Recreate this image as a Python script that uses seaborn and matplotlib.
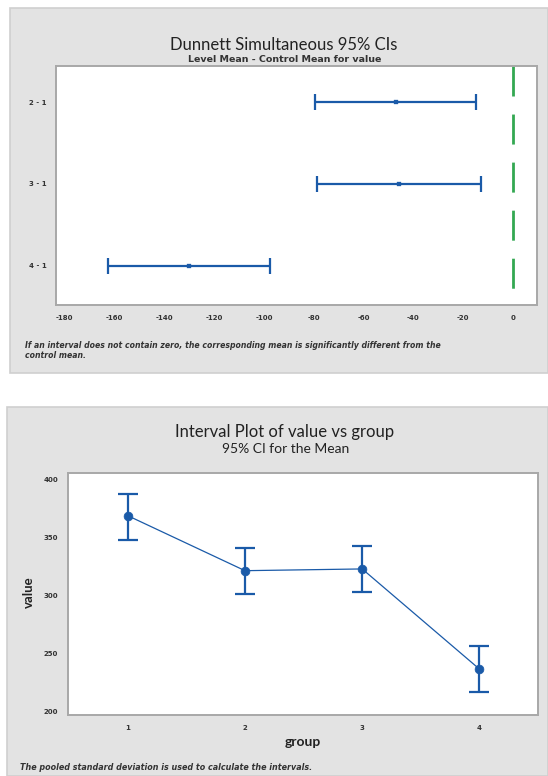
import numpy as np
import pandas as pd
import seaborn as sns
import matplotlib
matplotlib.use("Agg")
import matplotlib.pyplot as plt
from matplotlib.patches import Rectangle

# ---------------- data ----------------
comparisons = ["2 - 1", "3 - 1", "4 - 1"]
diff_mean = [-47.0, -45.8, -130.0]
diff_low = [-79.5, -78.7, -162.7]
diff_high = [-14.9, -12.9, -97.6]
dunnett_xticks = [-180, -160, -140, -120, -100, -80, -60, -40, -20, 0]

groups = [1, 2, 3, 4]
group_mean = [369.2, 321.8, 323.3, 237.0]
group_low = [348.3, 301.7, 303.4, 217.2]
group_high = [387.9, 341.4, 343.1, 256.9]
value_yticks = [200, 250, 300, 350, 400]

BLUE = "#1a5aa8"
GREEN = "#33a852"
PANEL = "#e3e3e3"
FRAME = "#a8a8a8"

sns.set_theme(style="white")
plt.rcParams["font.family"] = ["Lato", "DejaVu Sans"]

W, H = 548, 776
fig = plt.figure(figsize=(W / 100, H / 100), dpi=100)
fig.patch.set_facecolor("white")

def fx(px):
    return px / W

def fy(py):
    return 1 - py / H

# panels
fig.patches.append(Rectangle((fx(10), fy(373)), fx(548) - fx(10), (373 - 8) / H,
                             transform=fig.transFigure, facecolor=PANEL,
                             edgecolor="#cfcfcf", linewidth=1.2, zorder=-10))
fig.patches.append(Rectangle((fx(7), fy(776)), fx(548) - fx(7), (776 - 407) / H,
                             transform=fig.transFigure, facecolor=PANEL,
                             edgecolor="#cfcfcf", linewidth=1.2, zorder=-10))

SMALL = ["DejaVu Sans"]

def style_axes(ax):
    ax.set_facecolor("white")
    for s in ax.spines.values():
        s.set_color(FRAME)
        s.set_linewidth(1.4)
    ax.tick_params(axis="both", which="major", length=3, width=0.8, color=FRAME,
                   direction="out", labelsize=5, pad=4)
    for lab in ax.get_xticklabels() + ax.get_yticklabels():
        lab.set_fontweight("bold")
        lab.set_family(SMALL)
        lab.set_color("#333333")

# ---------------- Dunnett plot ----------------
ax1 = fig.add_axes([fx(56), fy(305), fx(537) - fx(56), (305 - 66) / H])
dfd = pd.DataFrame({"comp": comparisons, "mean": diff_mean,
                    "low": diff_low, "high": diff_high})
dfd["pos"] = np.arange(len(dfd))
ax1.errorbar(dfd["mean"], dfd["pos"],
             xerr=[dfd["mean"] - dfd["low"], dfd["high"] - dfd["mean"]],
             fmt="none", ecolor=BLUE, elinewidth=1.6, capsize=6, capthick=1.6, zorder=2)
sns.scatterplot(data=dfd, x="mean", y="pos", ax=ax1, color=BLUE, marker="s",
                s=8, edgecolor=BLUE, zorder=3)
ax1.set_xlim(-183.5, 9.6)
ax1.set_ylim(2.48, -0.44)
ylo, yhi = ax1.get_ylim()
# zero reference line, drawn from the top of the frame downwards
ax1.plot([0, 0], [yhi, ylo], color=GREEN, linewidth=2, dashes=(10.8, 6.5), zorder=1)
ax1.set_xticks(dunnett_xticks)
ax1.set_xticklabels([str(t) for t in dunnett_xticks])
ax1.set_yticks(dfd["pos"])
ax1.set_yticklabels(comparisons)
ax1.set_xlabel("")
ax1.set_ylabel("")
style_axes(ax1)

fig.text(fx(284), fy(45), "Dunnett Simultaneous 95% CIs", ha="center", va="center",
         fontsize=12, color="#222222")
fig.text(fx(285), fy(59), "Level Mean - Control Mean for value", ha="center", va="center",
         fontsize=6.8, fontweight="bold", family=SMALL, color="#333333")
fig.text(fx(25), fy(345), "If an interval does not contain zero, the corresponding mean is significantly different from the",
         ha="left", va="center", fontsize=5.6, style="italic", fontweight="bold",
         family=SMALL, color="#333333")
fig.text(fx(25), fy(356), "control mean.",
         ha="left", va="center", fontsize=5.6, style="italic", fontweight="bold",
         family=SMALL, color="#333333")

# ---------------- Interval plot ----------------
ax2 = fig.add_axes([fx(68), fy(715), fx(538) - fx(68), (715 - 473) / H])
dfg = pd.DataFrame({"group": groups, "mean": group_mean,
                    "low": group_low, "high": group_high})
ax2.errorbar(dfg["group"], dfg["mean"],
             yerr=[dfg["mean"] - dfg["low"], dfg["high"] - dfg["mean"]],
             fmt="none", ecolor=BLUE, elinewidth=1.6, capsize=7, capthick=1.6, zorder=2)
sns.lineplot(data=dfg, x="group", y="mean", ax=ax2, color=BLUE, linewidth=0.9, zorder=2)
sns.scatterplot(data=dfg, x="group", y="mean", ax=ax2, color=BLUE, marker="o",
                s=40, edgecolor=BLUE, zorder=3)
ax2.set_xlim(0.49, 4.5)
ax2.set_ylim(197.4, 406)
ax2.set_xticks(groups)
ax2.set_xticklabels([str(g) for g in groups])
ax2.set_yticks(value_yticks)
ax2.set_yticklabels([str(t) for t in value_yticks])
ax2.set_xlabel("")
ax2.set_ylabel("")
style_axes(ax2)

fig.text(fx(285), fy(432), "Interval Plot of value vs group", ha="center", va="center",
         fontsize=12, color="#222222")
fig.text(fx(286), fy(449), "95% CI for the Mean", ha="center", va="center",
         fontsize=10, color="#222222")
fig.text(fx(303), fy(742), "group", ha="center", va="center", fontsize=10,
         fontweight="bold", color="#222222")
fig.text(fx(29), fy(592), "value", ha="center", va="center", rotation=90,
         fontsize=9.5, fontweight="bold", color="#222222")
fig.text(fx(20), fy(768), "The pooled standard deviation is used to calculate the intervals.",
         ha="left", va="center", fontsize=5.75, style="italic", fontweight="bold",
         family=SMALL, color="#333333")

fig.savefig("out.png", dpi=100)
